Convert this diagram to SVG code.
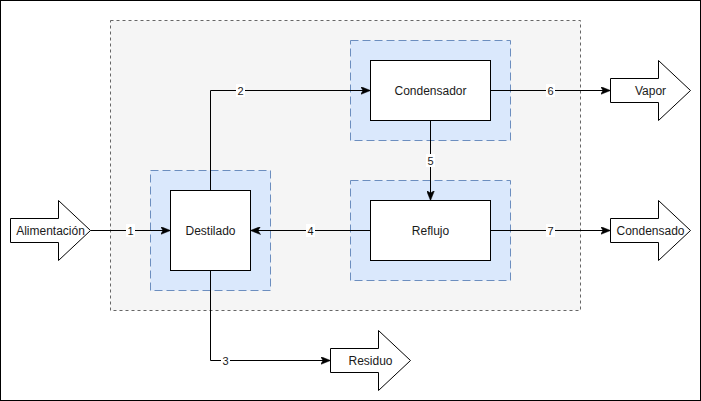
<svg xmlns="http://www.w3.org/2000/svg" width="701" height="401" viewBox="0 0 701 401">
<style>
.frame{fill:#ffffff;stroke:#000000;stroke-width:1}
.cont{fill:#f5f5f5;stroke:#666666;stroke-width:1;stroke-dasharray:3 3}
.zone{fill:#dae8fc;stroke:#6c8ebf;stroke-width:1;stroke-dasharray:8 4}
.box{fill:#ffffff;stroke:#000000;stroke-width:1}
.arr{fill:#ffffff;stroke:#000000;stroke-width:1}
.t{font-family:"Liberation Sans",Arial,sans-serif;font-size:12px;fill:#1a1a1a;text-anchor:middle;dominant-baseline:central}
.e{fill:none;stroke:#000000;stroke-width:1}
.lb{fill:#ffffff}
.lt{font-family:"Liberation Sans",Arial,sans-serif;font-size:11px;fill:#1a1a1a;text-anchor:middle;dominant-baseline:central}
</style>
<defs>
<marker id="ah" viewBox="0 0 10 8" refX="9" refY="4" markerWidth="10" markerHeight="8" markerUnits="userSpaceOnUse" orient="auto">
<path d="M0,0 L10,4 L0,8 L2.5,4 Z" fill="#000000" stroke="#000000" stroke-width="0.5"/>
</marker>
</defs>
<rect class="frame" x="0.5" y="0.5" width="700" height="400"/>
<rect class="cont" x="110.5" y="20.5" width="470" height="290"/>
<g id="zone-destilado"><rect class="zone" x="150.5" y="170.5" width="120" height="120"/></g>
<g id="zone-condensador"><rect class="zone" x="350.5" y="40.5" width="160" height="100"/></g>
<g id="zone-reflujo"><rect class="zone" x="350.5" y="180.5" width="160" height="100"/></g>
<g id="connectors">
<path class="e" d="M90.5,230.5 L169.5,230.5" marker-end="url(#ah)"/>
<path class="e" d="M210.5,190.5 L210.5,90.5 L369.5,90.5" marker-end="url(#ah)"/>
<path class="e" d="M210.5,270.5 L210.5,360.5 L329.5,360.5" marker-end="url(#ah)"/>
<path class="e" d="M370.5,230.5 L251.5,230.5" marker-end="url(#ah)"/>
<path class="e" d="M430.5,120.5 L430.5,199.5" marker-end="url(#ah)"/>
<path class="e" d="M490.5,90.5 L609.5,90.5" marker-end="url(#ah)"/>
<path class="e" d="M490.5,230.5 L609.5,230.5" marker-end="url(#ah)"/>
<rect class="lb" x="126" y="224" width="9" height="13"/><text class="lt" x="130.5" y="230.5">1</text>
<rect class="lb" x="236" y="84" width="9" height="13"/><text class="lt" x="240.5" y="90.5">2</text>
<rect class="lb" x="221" y="354" width="9" height="13"/><text class="lt" x="225.5" y="360.5">3</text>
<rect class="lb" x="306" y="224" width="9" height="13"/><text class="lt" x="310.5" y="230.5">4</text>
<rect class="lb" x="426" y="154" width="9" height="13"/><text class="lt" x="430.5" y="160.5">5</text>
<rect class="lb" x="546" y="84" width="9" height="13"/><text class="lt" x="550.5" y="90.5">6</text>
<rect class="lb" x="546" y="224" width="9" height="13"/><text class="lt" x="550.5" y="230.5">7</text>
</g>
<g id="destilado"><rect class="box" x="170.5" y="190.5" width="80" height="80"/><text class="t" x="210.5" y="230.5">Destilado</text></g>
<g id="condensador"><rect class="box" x="370.5" y="60.5" width="120" height="60"/><text class="t" x="430.5" y="90.5">Condensador</text></g>
<g id="reflujo"><rect class="box" x="370.5" y="200.5" width="120" height="60"/><text class="t" x="430.5" y="230.5">Reflujo</text></g>
<g id="alimentacion"><path class="arr" d="M10.5,218.5 L58.5,218.5 L58.5,200.5 L90.5,230.5 L58.5,260.5 L58.5,242.5 L10.5,242.5 Z"/><text class="t" x="50.5" y="230.5">Alimentación</text></g>
<g id="vapor"><path class="arr" d="M610.5,78.5 L658.5,78.5 L658.5,60.5 L690.5,90.5 L658.5,120.5 L658.5,102.5 L610.5,102.5 Z"/><text class="t" x="650.5" y="90.5">Vapor</text></g>
<g id="condensado"><path class="arr" d="M610.5,218.5 L658.5,218.5 L658.5,200.5 L690.5,230.5 L658.5,260.5 L658.5,242.5 L610.5,242.5 Z"/><text class="t" x="650.5" y="230.5">Condensado</text></g>
<g id="residuo"><path class="arr" d="M330.5,348.5 L378.5,348.5 L378.5,330.5 L410.5,360.5 L378.5,390.5 L378.5,372.5 L330.5,372.5 Z"/><text class="t" x="370.5" y="360.5">Residuo</text></g>
</svg>
